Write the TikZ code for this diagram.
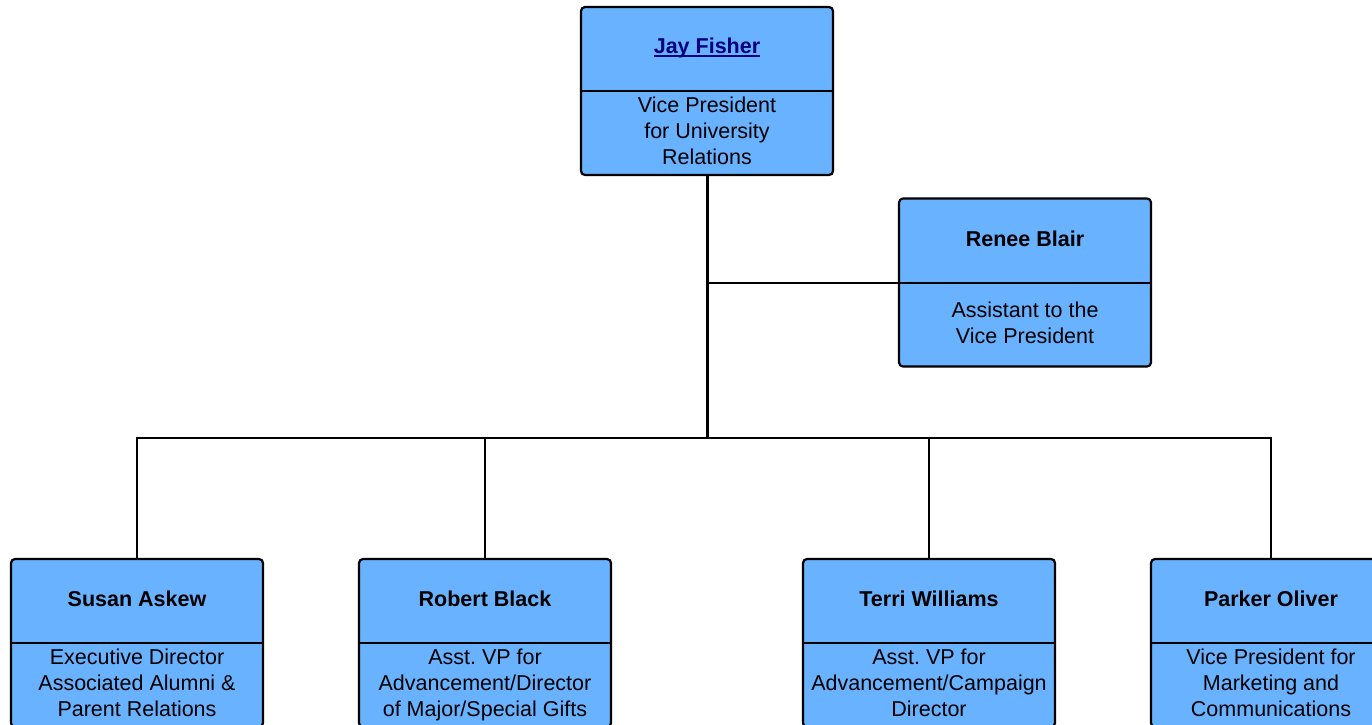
\documentclass[tikz,border=0pt]{standalone}
\usepackage{fontspec}
\setmainfont{Liberation Sans}
\frenchspacing
\definecolor{boxblue}{RGB}{104,178,255}
\definecolor{linknavy}{RGB}{0,0,128}
\newcommand\ulinetext[1]{\setbox0\hbox{#1}\rlap{\rule[-3.5pt]{\wd0}{1.8pt}}\box0}
\tikzset{
  orgbox/.style={draw=black, line width=2.2pt, fill=boxblue, rounded corners=4pt, minimum width=252pt, minimum height=168pt, inner sep=0pt},
  divider/.style={draw=black, line width=2pt},
  nametext/.style={font=\fontsize{21.5}{26}\selectfont\bfseries\frenchspacing, align=center, inner sep=0pt},
  roletext/.style={font=\fontsize{21.5}{26}\selectfont\frenchspacing, align=center, inner sep=0pt, anchor=north},
  conn/.style={draw=black, line width=2pt},
  trunk/.style={draw=black, line width=3pt}
}
\begin{document}
\begin{tikzpicture}[x=1pt,y=-1pt]
\useasboundingbox (0,0) rectangle (1372,724);
\clip (0,0) rectangle (1372,724);
\fill[white] (0,0) rectangle (1372,724);
% connectors
\coordinate (bus) at (707,438);
% boxes
\node[orgbox] (jay) at (707,91) {};
\node[orgbox] (renee) at (1025,282.5) {};
\node[orgbox] (susan) at (137,643) {};
\node[orgbox] (robert) at (485,643) {};
\node[orgbox] (terri) at (929,643) {};
\node[orgbox, minimum width=240pt] (parker) at (1271,643) {};
\draw[trunk] (jay.south) -- (bus);
\draw[conn] (renee.west) -- (renee.west -| jay.south);
\draw[conn] (susan.north) |- (bus) -| (parker.north);
\draw[conn] (robert.north) -- (robert.north |- bus);
\draw[conn] (terri.north) -- (terri.north |- bus);
% dividers
\draw[divider] (jay.west |- 0,91) -- (jay.east |- 0,91);
\draw[divider] (renee.west |- 0,283) -- (renee.east |- 0,283);
\foreach \b in {susan,robert,terri,parker}{
  \draw[divider] (\b.west |- 0,643) -- (\b.east |- 0,643);
}
% texts
\node[nametext, text=linknavy] (jayname) at (707,48) {\ulinetext{Jay Fisher}};
\node[roletext] (jayrole) at (707,97) {Vice President\\for University\\Relations};
\node[nametext] (reneename) at (1025,238.5) {Renee Blair};
\node[roletext] (reneerole) at (1025,302) {Assistant to the\\Vice President};
\node[nametext] (susanname) at (137,598.5) {Susan Askew};
\node[roletext] (susanrole) at (137,649) {Executive Director\\Associated Alumni \&\\Parent Relations};
\node[nametext] (robertname) at (485,598.5) {Robert Black};
\node[roletext] (robertrole) at (485,649) {Asst. VP for\\Advancement/Director\\of Major/Special Gifts};
\node[nametext] (terriname) at (929,598.5) {Terri Williams};
\node[roletext] (terrirole) at (929,649) {Asst. VP for\\Advancement/Campaign\\Director};
\node[nametext] (parkername) at (1271,598.5) {Parker Oliver};
\node[roletext] (parkerrole) at (1271,649) {Vice President for\\Marketing and\\Communications};
\end{tikzpicture}
\end{document}
